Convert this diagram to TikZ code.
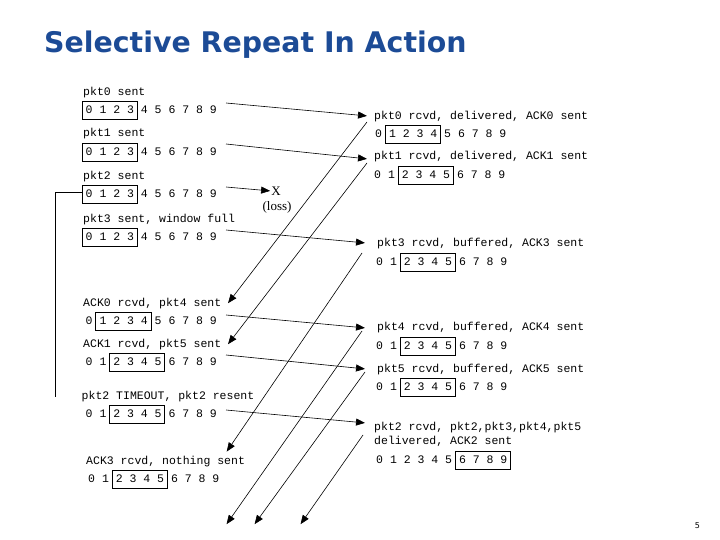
\documentclass[tikz,border=0pt]{standalone}
\usepackage{fontspec}
\setmainfont{Liberation Serif}
\setsansfont{DejaVu Sans}
\setmonofont{Liberation Mono}
\usetikzlibrary{arrows.meta}

\definecolor{titleblue}{HTML}{1C4B96}

% one row of sequence numbers, with the window boxed
\newcommand{\winrow}[5]{%
  \node[digits] (#1) at (#2,#3) {0 1 2 3 4 5 6 7 8 9};
  \draw[window] ([shift={({(2*#4-0.5)*6.9},-9)}]#1.west)
    rectangle ([shift={({(2*#5+1.5)*6.9},9)}]#1.west);
}

\begin{document}
\begin{tikzpicture}[x=1pt,y=-1pt,>={Triangle[length=9pt,width=7pt]},
                    msg/.style={font=\fontsize{11.5}{13.8}\selectfont\ttfamily,
                                inner sep=0pt,anchor=west,align=left},
                    digits/.style={msg},
                    window/.style={draw,line width=0.9pt},
                    pkt/.style={->,line width=0.6pt,shorten >=1pt}]
    \useasboundingbox (0,0) rectangle (720,540);

    \node[font=\sffamily\bfseries\fontsize{28.4}{34}\selectfont,text=titleblue,
          inner sep=0pt,anchor=base west] (title) at (44,53) {Selective Repeat In Action};

    % sender
    \node[msg] (l0) at (83,93) {pkt0 sent};
    \winrow{s0}{85.5}{110}{0}{3}
    \node[msg] (l1) at (83,134) {pkt1 sent};
    \winrow{s1}{85.5}{152}{0}{3}
    \node[msg] (l2) at (83,177) {pkt2 sent};
    \winrow{s2}{85.5}{194}{0}{3}
    \node[msg] (l3) at (83,220) {pkt3 sent, window full};
    \winrow{s3}{85.5}{237}{0}{3}
    \node[msg] (a0) at (83,304) {ACK0 rcvd, pkt4 sent};
    \winrow{s4}{85.5}{321}{1}{4}
    \node[msg] (a1) at (83,345) {ACK1 rcvd, pkt5 sent};
    \winrow{s5}{85.5}{362}{2}{5}
    \node[msg] (tmo) at (81.5,397) {pkt2 TIMEOUT, pkt2 resent};
    \winrow{s6}{85.5}{414}{2}{5}
    \node[msg] (a3) at (86,462) {ACK3 rcvd, nothing sent};
    \winrow{s7}{88}{479}{2}{5}

    % receiver
    \node[msg] (r0) at (374,117) {pkt0 rcvd, delivered, ACK0 sent};
    \winrow{q0}{375}{134}{1}{4}
    \node[msg] (r1) at (374,157) {pkt1 rcvd, delivered, ACK1 sent};
    \winrow{q1}{374}{175}{2}{5}
    \node[msg] (r3) at (377,244) {pkt3 rcvd, buffered, ACK3 sent};
    \winrow{q3}{376}{262}{2}{5}
    \node[msg] (r4) at (377,328) {pkt4 rcvd, buffered, ACK4 sent};
    \winrow{q4}{376}{346}{2}{5}
    \node[msg] (r5) at (377,370) {pkt5 rcvd, buffered, ACK5 sent};
    \winrow{q5}{376}{387}{2}{5}
    \node[msg] (r2) at (374,434) {pkt2 rcvd, pkt2,pkt3,pkt4,pkt5\\delivered, ACK2 sent};
    \winrow{q2}{376}{460}{6}{9}

    % lost packet and timer
    \node[font=\fontsize{13}{15}\selectfont,inner sep=0pt] (lossx) at (276,191) {X};
    \node[font=\fontsize{13}{15}\selectfont,inner sep=0pt] (loss) at (277,207) {(loss)};
    \draw[line width=0.6pt] ([shift={(-4,-1.5)}]s2.west) -| ([xshift=-26pt]tmo.west);

    \coordinate (e4) at (226,525);
    \coordinate (e5) at (254,525);
    \coordinate (e2) at (300,525);

    % data packets
    \path[pkt] ([shift={(9,-7)}]s0.east) edge ([shift={(-6,-1)}]r0.west)
               ([shift={(9,-8)}]s1.east) edge ([shift={(-6,2)}]r1.west)
               ([shift={(9,-7)}]s2.east) edge (lossx.west)
               ([shift={(9,-7)}]s3.east) edge ([shift={(-11,-1)}]r3.west)
               ([shift={(9,-6)}]s4.east) edge ([shift={(-11,0)}]r4.west)
               ([shift={(9,-7)}]s5.east) edge ([shift={(-11,-1)}]r5.west)
               ([shift={(9,-4)}]s6.east) edge ([shift={(-8,-11)}]r2.west);

    % acks
    \path[pkt] ([shift={(-7,5)}]r0.west) edge ([xshift=6pt]a0.east)
               ([shift={(-7,6)}]r1.west) edge ([xshift=6pt]a1.east)
               ([shift={(-15,9)}]r3.west) edge ([shift={(-19,-4)}]a3.north east)
               ([shift={(-15,3)}]r4.west) edge (e4)
               ([shift={(-12,2)}]r5.west) edge (e5)
               ([shift={(-11,1)}]r2.west) edge (e2);

    \node[font=\sffamily\fontsize{8}{10}\selectfont,inner sep=0pt] (pageno) at (697.5,525.5) {5};
\end{tikzpicture}
\end{document}
